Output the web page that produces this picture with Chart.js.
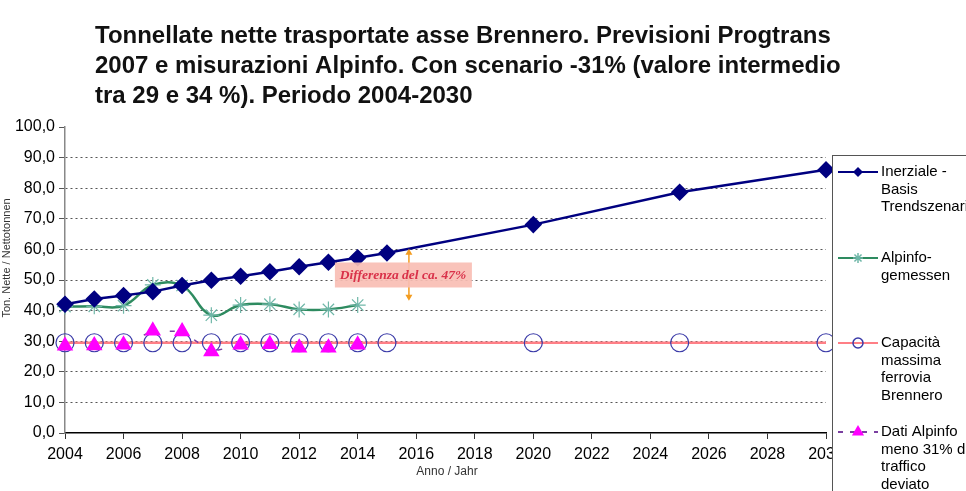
<!DOCTYPE html>
<html>
<head>
<meta charset="utf-8">
<script src="https://cdn.jsdelivr.net/npm/chart.js@4.4.1/dist/chart.umd.min.js"></script>
<style>
  html, body { margin: 0; padding: 0; background: #fff; }
  #chart { display: block; }
</style>
</head>
<body>
<canvas id="chart" width="966" height="491"></canvas>
<script>
// years and values
const years = [2004, 2005, 2006, 2007, 2008, 2009, 2010, 2011, 2012, 2013, 2014, 2015, 2020, 2025, 2030];
const inerziale = [42.1, 43.8, 44.9, 46.2, 48.2, 49.9, 51.2, 52.7, 54.3, 55.8, 57.3, 58.8, 68.1, 78.7, 86.0];
const capacita = [29.5, 29.5, 29.5, 29.5, 29.5, 29.5, 29.5, 29.5, 29.5, 29.5, 29.5, 29.5, 29.5, 29.5, 29.5];

const alpinfoYears = [2004, 2005, 2006, 2007, 2008, 2009, 2010, 2011, 2012, 2013, 2014];
const alpinfo = [41.3, 41.4, 41.6, 48.4, 48.2, 38.5, 41.8, 42.1, 40.4, 40.4, 41.8];
const alpinfoMeno31 = [28.5, 28.6, 28.8, 33.4, 33.2, 26.6, 28.8, 29.0, 27.9, 27.9, 28.8];

const xTicks = [2004, 2006, 2008, 2010, 2012, 2014, 2016, 2018, 2020, 2022, 2024, 2026, 2028, 2030];

const titleLines = [
  'Tonnellate nette trasportate asse Brennero. Previsioni Progtrans',
  '2007 e misurazioni Alpinfo. Con scenario -31% (valore intermedio',
  'tra 29 e 34 %). Periodo 2004-2030',
];

const toPoints = (xs, ys) => xs.map((x, i) => ({ x: x, y: ys[i] }));

const SANS = '"Liberation Sans", Arial, sans-serif';

// marker drawing for the legend
function drawMarker(ctx, style, x, y, r, color) {
  ctx.save();
  ctx.beginPath();
  ctx.strokeStyle = color;
  ctx.fillStyle = color;
  ctx.lineWidth = 1.5;
  if (style === 'diamond') {
    ctx.moveTo(x - r, y); ctx.lineTo(x, y - r); ctx.lineTo(x + r, y); ctx.lineTo(x, y + r);
    ctx.closePath(); ctx.fill();
  } else if (style === 'star') {
    for (let a = 0; a < 4; a++) {
      const ang = a * Math.PI / 4;
      ctx.moveTo(x - Math.cos(ang) * r, y - Math.sin(ang) * r);
      ctx.lineTo(x + Math.cos(ang) * r, y + Math.sin(ang) * r);
    }
    ctx.stroke();
  } else if (style === 'circle') {
    ctx.arc(x, y, r, 0, Math.PI * 2); ctx.stroke();
  } else if (style === 'triangle') {
    ctx.moveTo(x, y - r); ctx.lineTo(x + r * 0.87, y + r * 0.5); ctx.lineTo(x - r * 0.87, y + r * 0.5);
    ctx.closePath(); ctx.fill();
  }
  ctx.restore();
}

const legendItems = [
  { lines: ['Inerziale -', 'Basis', 'Trendszenari'], y: 172, color: '#000080', dash: [], marker: 'diamond', mColor: '#000080', r: 5 },
  { lines: ['Alpinfo-', 'gemessen'], y: 258, color: '#2e8b60', dash: [], marker: 'star', mColor: '#6fb7a8', r: 5 },
  { lines: ['Capacità', 'massima', 'ferrovia', 'Brennero'], y: 343, color: '#ff7f86', dash: [], marker: 'circle', mColor: '#3a3aa8', r: 5 },
  { lines: ['Dati Alpinfo', 'meno 31% di', 'traffico', 'deviato'], y: 432, color: '#7a3fa0', dash: [5, 7], marker: 'triangle', mColor: '#ff00ff', r: 7 },
];

const decorations = {
  id: 'decorations',
  afterDraw(chart) {
    const ctx = chart.ctx;
    const xs = chart.scales.x;
    const ys = chart.scales.y;

    // title
    ctx.save();
    ctx.fillStyle = '#111';
    ctx.font = 'bold 24px ' + SANS;
    ctx.textBaseline = 'alphabetic';
    titleLines.forEach((t, i) => ctx.fillText(t, 95, 43 + i * 30));
    ctx.restore();

    // axis titles
    ctx.save();
    ctx.fillStyle = '#333';
    ctx.font = '12px ' + SANS;
    ctx.textAlign = 'center';
    ctx.textBaseline = 'middle';
    ctx.fillText('Anno / Jahr', 447, 472);
    ctx.translate(7, 258);
    ctx.rotate(-Math.PI / 2);
    ctx.font = '11px ' + SANS;
    ctx.fillText('Ton. Nette / Nettotonnen', 0, 0);
    ctx.restore();

    // difference annotation
    const ax = xs.getPixelForValue(2015.75);
    const aTop = ys.getPixelForValue(60.2);
    const aBot = ys.getPixelForValue(43.2);
    ctx.save();
    ctx.strokeStyle = '#f39c1f';
    ctx.fillStyle = '#f39c1f';
    ctx.lineWidth = 1.5;
    ctx.beginPath();
    ctx.moveTo(ax, aTop + 4); ctx.lineTo(ax, aBot - 4);
    ctx.stroke();
    ctx.beginPath();
    ctx.moveTo(ax, aTop); ctx.lineTo(ax - 3.5, aTop + 6); ctx.lineTo(ax + 3.5, aTop + 6); ctx.closePath();
    ctx.moveTo(ax, aBot); ctx.lineTo(ax - 3.5, aBot - 6); ctx.lineTo(ax + 3.5, aBot - 6); ctx.closePath();
    ctx.fill();
    const boxY = ys.getPixelForValue(51.8);
    ctx.fillStyle = 'rgba(248, 190, 180, 0.92)';
    ctx.fillRect(ax - 74, boxY - 12, 137, 25);
    ctx.fillStyle = '#d9324a';
    ctx.font = 'italic bold 13.5px "Liberation Serif", "DejaVu Serif", serif';
    ctx.textAlign = 'center';
    ctx.textBaseline = 'middle';
    ctx.fillText('Differenza del ca. 47%', ax - 6, boxY + 1);
    ctx.restore();

    // legend box
    ctx.save();
    ctx.fillStyle = '#fff';
    ctx.fillRect(832, 155, 140, 340);
    ctx.strokeStyle = '#555';
    ctx.lineWidth = 1;
    ctx.strokeRect(832.5, 155.5, 140, 340);
    legendItems.forEach(it => {
      ctx.save();
      ctx.strokeStyle = it.color;
      ctx.lineWidth = 2;
      ctx.setLineDash(it.dash);
      ctx.beginPath();
      ctx.moveTo(838, it.y); ctx.lineTo(878, it.y);
      ctx.stroke();
      ctx.restore();
      drawMarker(ctx, it.marker, 858, it.y, it.r, it.mColor);
      ctx.fillStyle = '#000';
      ctx.font = '15px ' + SANS;
      ctx.textBaseline = 'middle';
      it.lines.forEach((l, i) => ctx.fillText(l, 881, it.y + i * 17.5));
    });
    ctx.restore();
  }
};

new Chart(document.getElementById('chart'), {
  type: 'line',
  data: {
    datasets: [
      {
        label: 'Dati Alpinfo meno 31% di traffico deviato',
        data: toPoints(alpinfoYears, alpinfoMeno31),
        borderColor: '#7a3fa0',
        borderWidth: 1.5,
        borderDash: [5, 22],
        pointStyle: 'triangle',
        pointRadius: 8,
        pointBackgroundColor: '#ff00ff',
        pointBorderColor: '#ff00ff',
        order: 0,
      },
      {
        label: 'Inerziale - Basis Trendszenari',
        data: toPoints(years, inerziale),
        borderColor: '#000080',
        borderWidth: 2.5,
        pointStyle: 'rectRot',
        pointRadius: 7,
        pointBackgroundColor: '#000080',
        pointBorderColor: '#000080',
        order: 1,
      },
      {
        label: 'Alpinfo-gemessen',
        data: toPoints(alpinfoYears, alpinfo),
        borderColor: '#2e8b60',
        borderWidth: 2.5,
        tension: 0.4,
        pointStyle: 'star',
        pointRadius: 8,
        pointBorderWidth: 1.2,
        pointBorderColor: '#6fb7a8',
        pointBackgroundColor: '#6fb7a8',
        order: 2,
      },
      {
        label: 'Capacità massima ferrovia Brennero',
        data: toPoints(years, capacita),
        borderColor: '#ff7f86',
        borderWidth: 2.5,
        pointStyle: 'circle',
        pointRadius: 9,
        pointBorderWidth: 1.2,
        pointBorderColor: '#3a3aa8',
        pointBackgroundColor: 'rgba(0,0,0,0)',
        order: 3,
      },
    ],
  },
  options: {
    responsive: false,
    animation: false,
    devicePixelRatio: 1,
    clip: false,
    layout: { padding: { left: 0, top: 127, right: 140, bottom: 0 } },
    plugins: {
      legend: { display: false },
      title: { display: false },
      tooltip: { enabled: false },
    },
    scales: {
      x: {
        type: 'linear',
        min: 2004,
        max: 2030,
        afterFit: scale => { scale.height = 58; },
        afterBuildTicks: scale => { scale.ticks = xTicks.map(v => ({ value: v })); },
        border: { color: '#000', width: 1.5 },
        grid: { drawOnChartArea: false, tickLength: 6, color: '#333' },
        ticks: {
          color: '#000',
          padding: 6,
          maxRotation: 0,
          font: { family: SANS, size: 16 },
          callback: v => String(v),
        },
      },
      y: {
        min: 0,
        max: 100,
        afterFit: scale => { scale.width = 65; },
        // in v4 border.dash is the dash of the grid lines
        border: { color: '#888', width: 1.5, dash: [2, 3] },
        grid: {
          color: ctx => (ctx.tick && (ctx.tick.value === 100 || ctx.tick.value === 0)) ? 'rgba(0,0,0,0)' : '#555',
          tickColor: '#555',
          tickLength: 6,
          tickBorderDash: [],
        },
        ticks: {
          stepSize: 10,
          color: '#000',
          padding: 4,
          font: { family: SANS, size: 16 },
          callback: v => v.toFixed(1).replace('.', ','),
        },
      },
    },
  },
  plugins: [decorations],
});
</script>
</body>
</html>
